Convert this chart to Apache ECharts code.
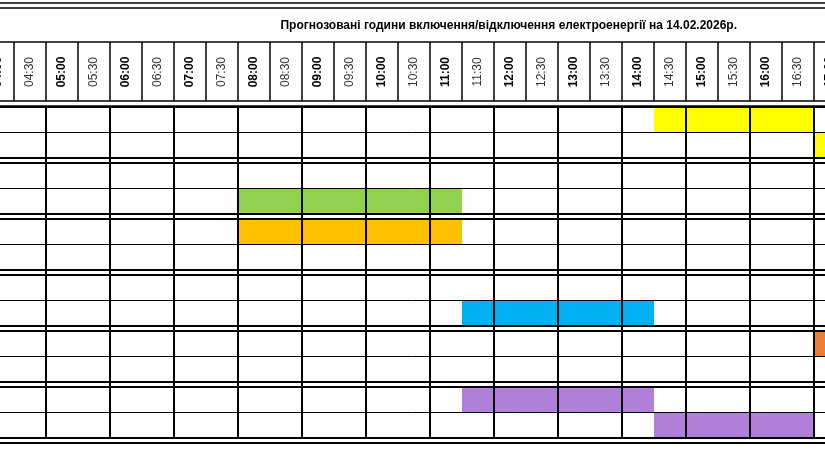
<!DOCTYPE html>
<html>
<head>
<meta charset="utf-8">
<script src="https://cdn.jsdelivr.net/npm/echarts@6/dist/echarts.min.js"></script>
<style>html,body{margin:0;padding:0;background:#fff}#c{width:825px;height:450px}</style>
</head>
<body>
<div id="c"></div>
<script>
var title = 'Прогнозовані години включення/відключення електроенергії на 14.02.2026р.'
// half-hour slots shown in the header (hours as numbers)
var slots = [4, 4.5, 5, 5.5, 6, 6.5, 7, 7.5, 8, 8.5, 9, 9.5, 10, 10.5, 11, 11.5, 12, 12.5, 13, 13.5, 14, 14.5, 15, 15.5, 16, 16.5, 17]
var slotLabels = ['04:00', '04:30', '05:00', '05:30', '06:00', '06:30', '07:00', '07:30', '08:00', '08:30', '09:00', '09:30', '10:00', '10:30', '11:00', '11:30', '12:00', '12:30', '13:00', '13:30', '14:00', '14:30', '15:00', '15:30', '16:00', '16:30', '17:00']
// outage bars: row (0..11), start, end, colour
var barRow = [0, 1, 3, 4, 7, 8, 10, 11]
var barStart = [14.5, 17, 8, 8, 11.5, 17, 11.5, 14.5]
var barEnd = [17, 18, 11.5, 11.5, 14.5, 18, 14.5, 17]
var barColor = ['#ffff00', '#ffff00', '#92d050', '#ffc000', '#00b0f0', '#ed7d31', '#b07fda', '#b07fda']

var GROUP_TOP = 107, GROUP_STEP = 56, ROW_H = 25.5
function rowTop(i) {
  return GROUP_TOP + Math.floor(i / 2) * GROUP_STEP + (i % 2) * ROW_H
}

var chart = echarts.init(document.getElementById('c'))

function line(api, x1, y1, x2, y2, w) {
  var a = api.coord([x1, y1]), b = api.coord([x2, y2])
  return { type: 'line', shape: { x1: a[0], y1: a[1], x2: b[0], y2: b[1] }, style: { stroke: '#000', lineWidth: w } }
}

function renderGrid(params, api) {
  var L = 3, R = 19
  var els = []
  els.push(line(api, L, 3, R, 3, 1.5))
  els.push(line(api, L, 8, R, 8, 1.5))
  els.push(line(api, L, 42, R, 42, 1.5))
  els.push(line(api, L, 101, R, 101, 1.5))
  els.push(line(api, L, 106, R, 106, 1.5))
  for (var g = 0; g < 6; g++) {
    var top = GROUP_TOP + g * GROUP_STEP
    els.push(line(api, L, top, R, top, 2))
    els.push(line(api, L, top + ROW_H, R, top + ROW_H, 1))
    els.push(line(api, L, top + 2 * ROW_H, R, top + 2 * ROW_H, 2))
  }
  els.push(line(api, L, 443, R, 443, 2))
  slots.forEach(function (t, i) {
    els.push(line(api, t, 42, t, 101, 1.5))
    var c = api.coord([t + 0.25, 72])
    var bold = slotLabels[i].slice(3) === '00'
    els.push({
      type: 'text', x: c[0], y: c[1], rotation: Math.PI / 2,
      style: {
        text: slotLabels[i], x: 0, y: 0, align: 'center', verticalAlign: 'middle',
        font: (bold ? 'bold ' : '') + '12px "Liberation Sans", Arial, sans-serif',
        fill: bold ? '#000' : '#333'
      }
    })
    if (t % 1 === 0) els.push(line(api, t, 106, t, 438, 2))
  })
  var tc = api.coord([12.23, 26])
  els.push({
    type: 'text', x: tc[0], y: tc[1],
    style: { text: title, align: 'center', verticalAlign: 'middle', font: 'bold 12px "Liberation Sans", Arial, sans-serif', fill: '#000' }
  })
  return { type: 'group', children: els }
}

function renderBar(params, api) {
  var row = api.value(0)
  var a = api.coord([api.value(1), rowTop(row)])
  var b = api.coord([api.value(2), rowTop(row) + ROW_H])
  return {
    type: 'rect',
    shape: { x: a[0], y: a[1], width: b[0] - a[0], height: b[1] - a[1] },
    style: { fill: barColor[params.dataIndex] }
  }
}

var barData = barRow.map(function (r, i) { return [r, barStart[i], barEnd[i]] })

chart.setOption({
  animation: false,
  grid: { left: 0, right: 0, top: 0, bottom: 0 },
  xAxis: { type: 'value', min: 4.28125, max: 17.171875, show: false },
  yAxis: { type: 'value', min: 0, max: 450, inverse: true, show: false },
  series: [
    { type: 'custom', renderItem: renderBar, data: barData, z: 1, clip: true },
    { type: 'custom', renderItem: renderGrid, data: [[0, 0]], z: 2, clip: true }
  ]
})
</script>
</body>
</html>
